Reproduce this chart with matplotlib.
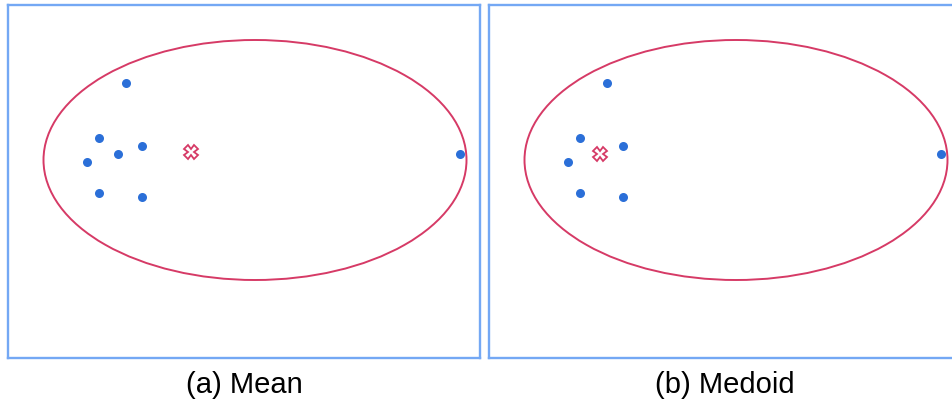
import matplotlib
matplotlib.use("Agg")
import matplotlib.pyplot as plt
from matplotlib.patches import Ellipse

W, H = 953, 405

# point positions in panel pixel units (x right, y down)
pts_x = [118, 91, 79, 110, 134, 91, 134, 452]
pts_y = [78, 133, 157, 149, 141, 188, 192, 149]

mean_xy = (183, 147)
# medoid replaces the point at (110, 149)
medoid_xy = (111, 149)

ell_center = (247, 155)
ell_w, ell_h = 423, 240

captions = ["(a) Mean", "(b) Medoid"]

blue = "#2b6fd8"
red = "#d63a66"
border = "#74a8f4"

fig = plt.figure(figsize=(W / 100, H / 100), dpi=100)

panels = [(8, 5, 472, 353), (489, 5, 472, 353)]

for i, (px, py, pw, ph) in enumerate(panels):
	ax = fig.add_axes([px / W, 1 - (py + ph) / H, pw / W, ph / H])
	ax.set_xlim(0, pw)
	ax.set_ylim(ph, 0)
	ax.set_xticks([])
	ax.set_yticks([])
	for s in ax.spines.values():
		s.set_color(border)
		s.set_linewidth(1.7)

	ax.add_patch(Ellipse(ell_center, ell_w, ell_h, fill=False,
		edgecolor=red, linewidth=1.4))

	if i == 0:
		xs, ys = pts_x, pts_y
		cx, cy = mean_xy
	else:
		xs = [x for x, y in zip(pts_x, pts_y) if (x, y) != (110, 149)]
		ys = [y for x, y in zip(pts_x, pts_y) if (x, y) != (110, 149)]
		cx, cy = medoid_xy
	ax.plot(xs, ys, "o", color=blue, markersize=6.5, markeredgewidth=0)
	ax.plot([cx], [cy], marker="X", markersize=10, markerfacecolor="white",
		markeredgecolor=red, markeredgewidth=1.3, linestyle="none")

	fig.text((px + pw / 2) / W, 1 - 385 / H, captions[i], ha="center",
		va="center", fontsize=21, family="Liberation Sans")

fig.savefig("out.png", dpi=100)
